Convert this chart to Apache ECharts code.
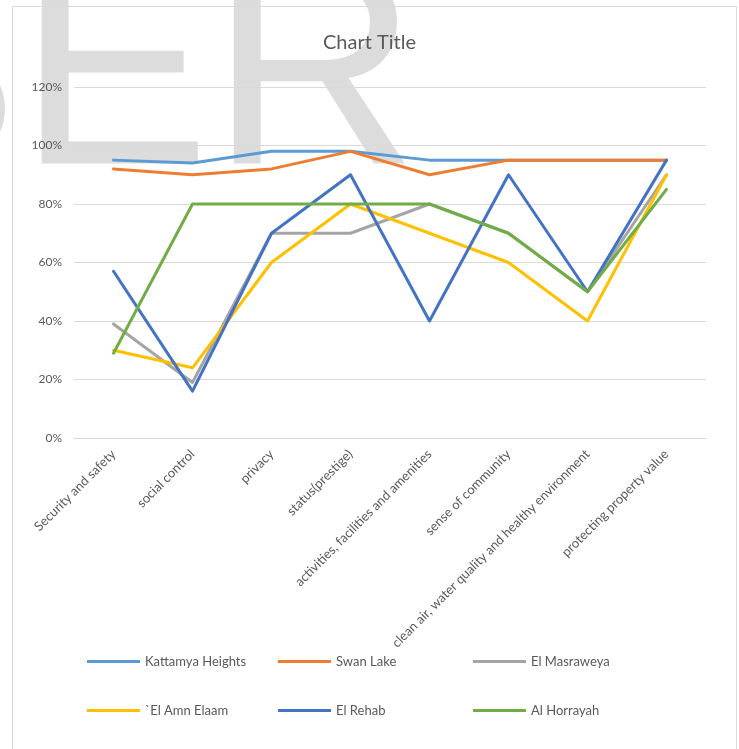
<!DOCTYPE html>
<html>
<head>
<meta charset="utf-8">
<style>html,body{margin:0;padding:0;background:#fff;}#main{width:739px;height:749px;}</style>
<script src="https://cdn.jsdelivr.net/npm/echarts@6/dist/echarts.min.js"></script>
</head>
<body>
<div id="main"></div>
<script>
const categories = ["Security and safety", "social control", "privacy", "status(prestige)", "activities, facilities and amenities", "sense of community", "clean air, water quality and healthy environment", "protecting property value"];
const kattamyaHeights = [95, 94, 98, 98, 95, 95, 95, 95];
const swanLake = [92, 90, 92, 98, 90, 95, 95, 95];
const elMasraweya = [39, 19, 70, 70, 80, 70, 50, 90];
const elAmnElaam = [30, 24, 60, 80, 70, 60, 40, 90];
const elRehab = [57, 16, 70, 90, 40, 90, 50, 95];
const alHorrayah = [29, 80, 80, 80, 80, 70, 50, 85];
const seriesNames = ["Kattamya Heights", "Swan Lake", "El Masraweya", "`El Amn Elaam", "El Rehab", "Al Horrayah"];
const seriesData = [kattamyaHeights, swanLake, elMasraweya, elAmnElaam, elRehab, alHorrayah];
const colors = ["#5B9BD5", "#ED7D31", "#A5A5A5", "#FFC000", "#4472C4", "#70AD47"];

const FONT = "Lato";
const chart = echarts.init(document.getElementById('main'), null, {renderer: 'canvas'});

const legendPos = [[87, 655], [278, 655], [473, 655], [87, 704], [278, 704], [473, 704]];
const legends = seriesNames.map((n, i) => ({
  data: [n], left: legendPos[i][0], top: legendPos[i][1], padding: 0,
  icon: 'rect', itemWidth: 53, itemHeight: 3,
  textStyle: {fontFamily: FONT, fontSize: 13, color: '#595959'},
  selectedMode: false
}));

chart.setOption({
  animation: false,
  color: colors,
  title: {
    text: 'Chart Title', left: 'center', top: 28,
    textStyle: {fontFamily: FONT, fontSize: 20, fontWeight: 'normal', color: '#595959'}
  },
  graphic: [
    {type: 'text', z: -10, silent: true,
     style: {text: 'SER', x: -174, y: 228, fontFamily: 'Liberation Sans', fontSize: 288, fill: '#DCDCDC', verticalAlign: 'bottom', align: 'left'}},
    {type: 'rect', z: -5, silent: true, shape: {x: 12.5, y: 6.5, width: 724, height: 760},
     style: {fill: 'none', stroke: '#D9D9D9', lineWidth: 1}}
  ],
  legend: legends,
  grid: {left: 74, right: 33, top: 87, bottom: 311, containLabel: false},
  xAxis: {
    type: 'category', data: categories, boundaryGap: true,
    axisLine: {lineStyle: {color: '#D9D9D9'}},
    axisTick: {show: false},
    axisLabel: {rotate: 45, interval: 0, margin: 14, fontFamily: FONT, fontSize: 13, color: '#595959'}
  },
  yAxis: {
    type: 'value', min: 0, max: 120, interval: 20,
    axisLine: {show: false}, axisTick: {show: false},
    splitLine: {lineStyle: {color: '#D9D9D9'}},
    axisLabel: {formatter: '{value}%', margin: 12, fontFamily: FONT, fontSize: 12, color: '#595959'}
  },
  series: seriesNames.map((n, i) => ({
    name: n, type: 'line', data: seriesData[i], symbol: 'none',
    lineStyle: {width: 3, color: colors[i], cap: 'round', join: 'round'},
    itemStyle: {color: colors[i]}
  }))
});
</script>
</body>
</html>
